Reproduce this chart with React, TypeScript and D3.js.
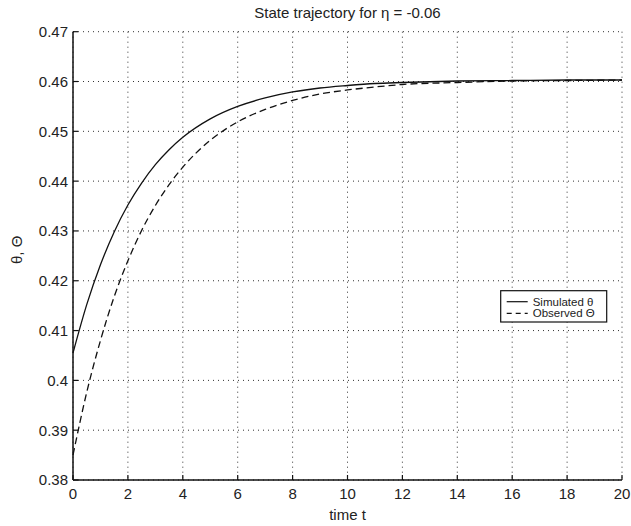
import React from "react";
import * as d3 from "d3";

const timeValues = [0, 0.5, 1, 1.5, 2, 2.5, 3, 3.5, 4, 5, 6, 7, 8, 9, 10, 11, 12, 14, 16, 18, 20];
const simulated = [0.4055, 0.4152, 0.4232, 0.4298, 0.4352, 0.4396, 0.4433, 0.4463, 0.4488, 0.4525, 0.455, 0.4567, 0.4579, 0.4587, 0.4592, 0.4596, 0.4598, 0.4601, 0.4602, 0.4603, 0.4603];
const observed = [0.385, 0.3976, 0.408, 0.4168, 0.424, 0.4301, 0.4351, 0.4393, 0.4428, 0.4482, 0.4519, 0.4544, 0.4562, 0.4575, 0.4583, 0.4589, 0.4594, 0.4598, 0.4601, 0.4602, 0.4603];
const xTicks = [0, 2, 4, 6, 8, 10, 12, 14, 16, 18, 20];
const yTicks = [0.38, 0.39, 0.4, 0.41, 0.42, 0.43, 0.44, 0.45, 0.46, 0.47];
const titleText = "State trajectory for η = -0.06";
const xLabel = "time t";
const yLabel = "θ, Θ";
const legendLabels = ["Simulated θ", "Observed Θ"];

const W = 631;
const H = 526;
const left = 73;
const right = 622;
const top = 31.7;
const bottom = 480;
const font = "'Liberation Sans', Arial, Helvetica, sans-serif";

export default function App() {
  const x = d3.scaleLinear().domain([0, 20]).range([left, right]);
  const y = d3.scaleLinear().domain([0.38, 0.47]).range([bottom, top]);
  const line = d3
    .line<number>()
    .x((_, i) => x(timeValues[i]))
    .y((d) => y(d))
    .curve(d3.curveMonotoneX);

  const lx = 500.7, ly = 290.7, lw = 106, lh = 31.3;

  return (
    <svg
      width={W}
      height={H}
      style={{ position: "absolute", left: 0, top: 0, background: "#fff" }}
      fontFamily={font}
    >
      <rect x={0} y={0} width={W} height={H} fill="#fff" />
      {/* grid */}
      {xTicks.map((t) => (
        <line key={"gx" + t} x1={x(t)} x2={x(t)} y1={top} y2={bottom} stroke="#333" strokeWidth={1} strokeDasharray="1,4" />
      ))}
      {yTicks.map((t) => (
        <line key={"gy" + t} x1={left} x2={right} y1={y(t)} y2={y(t)} stroke="#333" strokeWidth={1} strokeDasharray="1,4" />
      ))}
      {/* ticks */}
      {xTicks.map((t) => (
        <line key={"tx" + t} x1={x(t)} x2={x(t)} y1={bottom} y2={bottom - 5} stroke="#111" strokeWidth={1.2} />
      ))}
      {yTicks.map((t) => (
        <line key={"ty" + t} x1={left} x2={left + 5} y1={y(t)} y2={y(t)} stroke="#111" strokeWidth={1.2} />
      ))}
      {/* axes */}
      <line x1={left} x2={left} y1={top} y2={bottom} stroke="#111" strokeWidth={1.5} />
      <line x1={left} x2={right} y1={bottom} y2={bottom} stroke="#111" strokeWidth={1.5} />
      {/* tick labels */}
      {xTicks.map((t) => (
        <text key={"lx" + t} x={x(t)} y={499} textAnchor="middle" fontSize={15} fill="#222">
          {t}
        </text>
      ))}
      {yTicks.map((t) => (
        <text key={"ly" + t} x={left - 5} y={y(t) + 5.4} textAnchor="end" fontSize={15} fill="#222">
          {d3.format("~g")(t)}
        </text>
      ))}
      {/* curves */}
      <path d={line(simulated) || ""} fill="none" stroke="#111" strokeWidth={1.3} />
      <path d={line(observed) || ""} fill="none" stroke="#111" strokeWidth={1.3} strokeDasharray="7,4" />
      {/* title and labels */}
      <text x={(left + right) / 2} y={18} textAnchor="middle" fontSize={15} fill="#222">
        {titleText}
      </text>
      <text x={(left + right) / 2} y={520} textAnchor="middle" fontSize={15} fill="#222">
        {xLabel}
      </text>
      <text
        transform={`translate(22, ${(top + bottom) / 2 - 6}) rotate(-90)`}
        textAnchor="middle"
        fontSize={15}
        fill="#222"
      >
        {yLabel}
      </text>
      {/* legend */}
      <rect x={lx} y={ly} width={lw} height={lh} fill="#fff" stroke="#111" strokeWidth={1.2} />
      <line x1={lx + 6} x2={lx + 27} y1={ly + 11} y2={ly + 11} stroke="#111" strokeWidth={1.2} />
      <line x1={lx + 6} x2={lx + 27} y1={ly + 22.6} y2={ly + 22.6} stroke="#111" strokeWidth={1.2} strokeDasharray="5,4" />
      <text x={lx + 32} y={ly + 15} fontSize={11.5} fill="#222">
        {legendLabels[0]}
      </text>
      <text x={lx + 32} y={ly + 26.6} fontSize={11.5} fill="#222">
        {legendLabels[1]}
      </text>
    </svg>
  );
}
